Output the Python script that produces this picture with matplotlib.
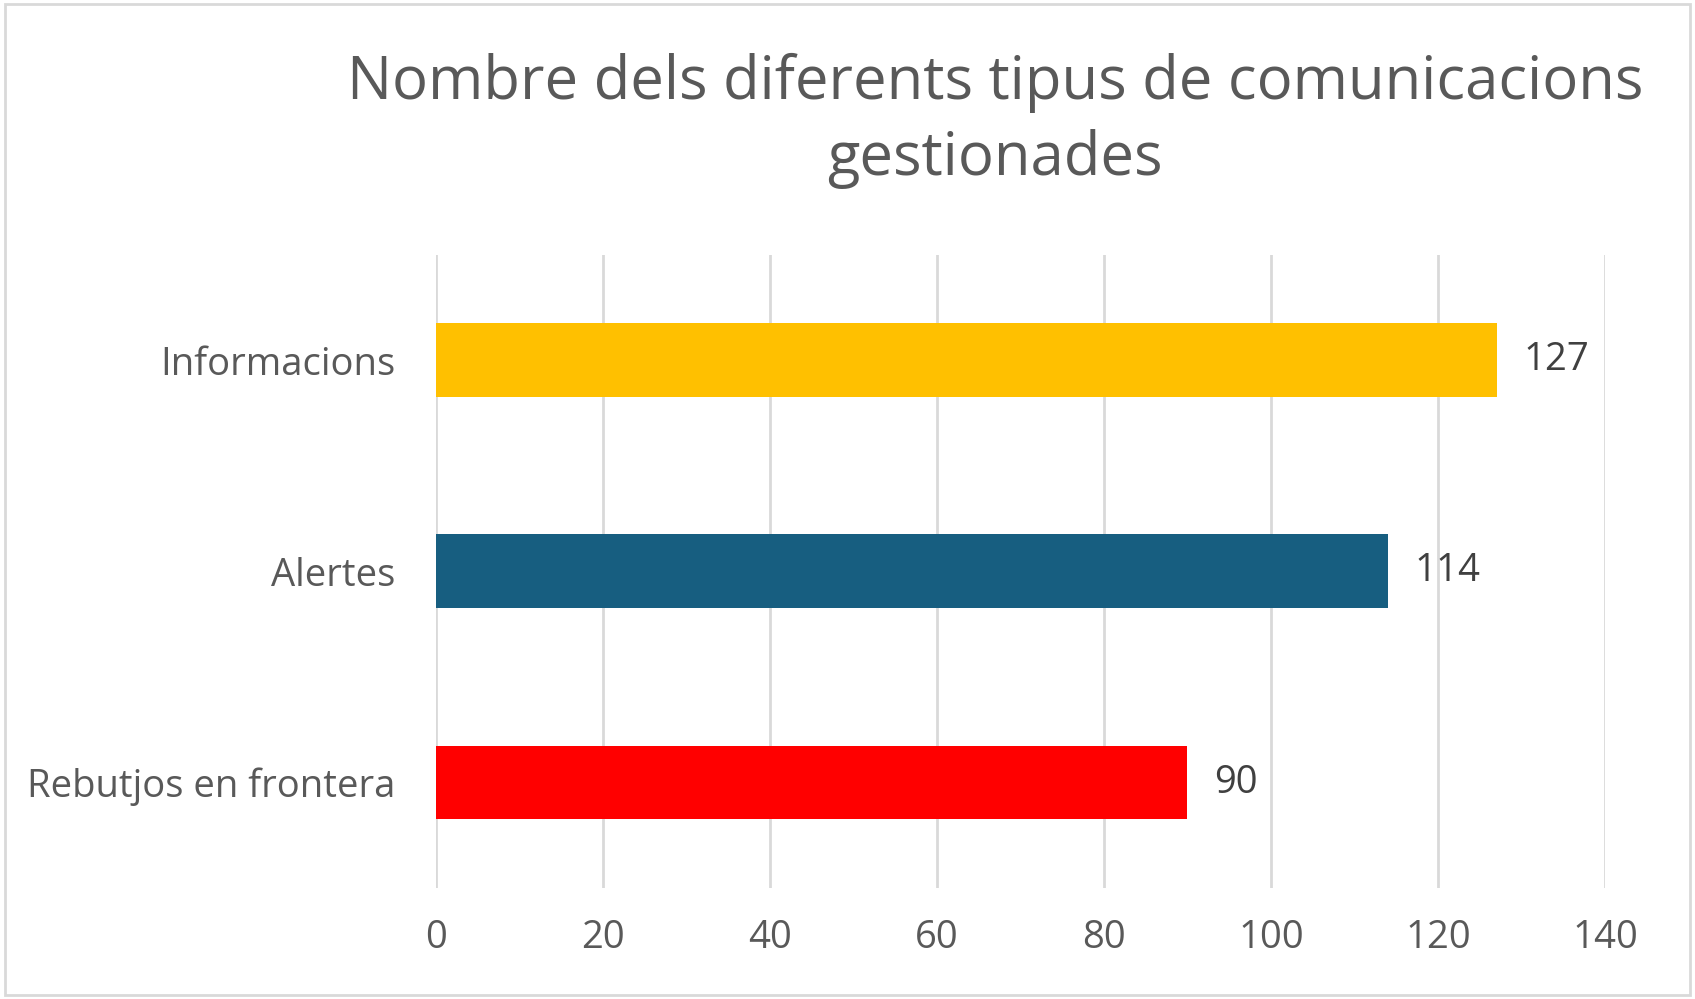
import matplotlib.pyplot as plt
from matplotlib.patches import Rectangle

plt.rcParams['font.family'] = ['Open Sans', 'DejaVu Sans']

# Dades
categories = ['Informacions', 'Alertes', 'Rebutjos en frontera']
values = [127, 114, 90]
colors = ['#FFC000', '#175E80', '#FF0000']
xticks = [0, 20, 40, 60, 80, 100, 120, 140]

fig = plt.figure(figsize=(16.95, 9.99), dpi=100)
ax = fig.add_axes([0.257, 0.111, 0.69, 0.634])

ypos = list(range(len(categories)))
ax.barh(ypos, values, height=0.35, color=colors, zorder=3)
for y, v in zip(ypos, values):
    ax.text(v + 3.2, y, str(v), va='center', ha='left', fontsize=27.5, color='#404040')

ax.set_ylim(2.5, -0.5)
ax.set_xlim(0, 140)
ax.set_yticks(ypos)
ax.set_yticklabels(categories, fontsize=27.5, color='#595959')
ax.set_xticks(xticks)
ax.set_xticklabels([str(t) for t in xticks], fontsize=27.5, color='#595959')
ax.tick_params(axis='both', length=0)
ax.tick_params(axis='y', pad=29)
ax.tick_params(axis='x', pad=22)
ax.grid(axis='x', color='#D9D9D9', linewidth=2, zorder=0)
for s in ax.spines.values():
    s.set_visible(False)

fig.text(0.587, 0.917, 'Nombre dels diferents tipus de comunicacions', ha='center', va='center',
         fontsize=43, color='#595959')
fig.text(0.587, 0.841, 'gestionades', ha='center', va='center', fontsize=43, color='#595959')

fig.patches.append(Rectangle((0.003, 0.004), 0.994, 0.992, transform=fig.transFigure,
                             fill=False, edgecolor='#D9D9D9', linewidth=2))

fig.savefig('out.png', dpi=100)
